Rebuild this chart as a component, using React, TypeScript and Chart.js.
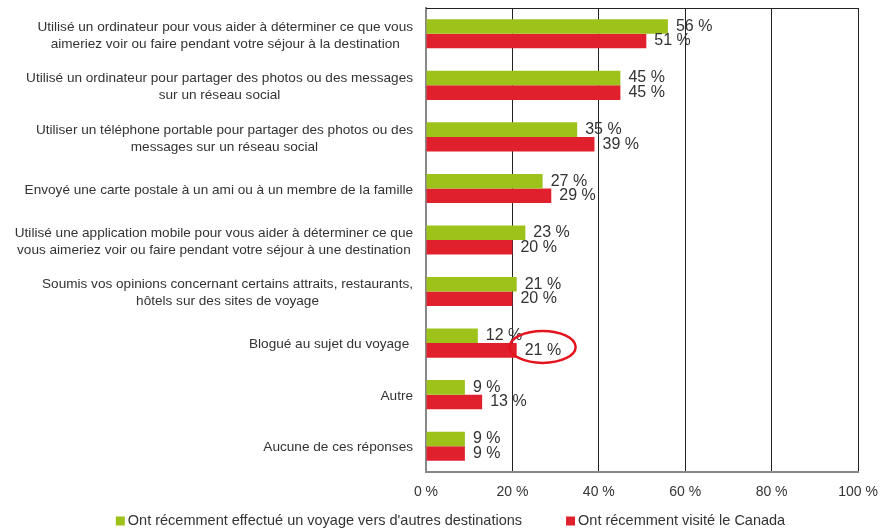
import React, { useEffect, useRef } from "react";
import { Chart, registerables } from "chart.js";

Chart.register(...registerables);

const categories: string[][] = [
  ["Utilisé un ordinateur pour vous aider à déterminer ce que vous", "aimeriez voir ou faire pendant votre séjour à la destination"],
  ["Utilisé un ordinateur pour partager des photos ou des messages", "sur un réseau social"],
  ["Utiliser un téléphone portable pour partager des photos ou des", "messages sur un réseau social"],
  ["Envoyé une carte postale à un ami ou à un membre de la famille"],
  ["Utilisé une application mobile pour vous aider à déterminer ce que", "vous aimeriez voir ou faire pendant votre séjour à une destination"],
  ["Soumis vos opinions concernant certains attraits, restaurants,", "hôtels sur des sites de voyage"],
  ["Blogué au sujet du voyage "],
  ["Autre"],
  ["Aucune de ces réponses"],
];
const otherDestinations = [56, 45, 35, 27, 23, 21, 12, 9, 9];
const visitedCanada = [51, 45, 39, 29, 20, 20, 21, 13, 9];
const seriesNames = [
  "Ont récemment effectué un voyage vers d'autres destinations",
  "Ont récemment visité le Canada",
];
const xTickValues = [0, 20, 40, 60, 80, 100];
const highlightIndex = 6;
const highlightCenterValue = 27;

const GREEN = "#9dc31b";
const RED = "#e1202e";
const TEXT = "#333333";
const FONT = '"Liberation Sans", Arial, Helvetica, sans-serif';

const labelsPlugin = {
  id: "customLabels",
  afterDatasetsDraw(chart: any) {
    const ctx = chart.ctx;
    const area = chart.chartArea;
    const yScale = chart.scales.y;
    const xScale = chart.scales.x;
    ctx.save();
    // top border
    ctx.strokeStyle = "#222";
    ctx.lineWidth = 1;
    ctx.beginPath();
    ctx.moveTo(area.left, area.top + 0.5);
    ctx.lineTo(area.right, area.top + 0.5);
    ctx.stroke();

    // category labels
    ctx.font = `13.6px ${FONT}`;
    ctx.fillStyle = TEXT;
    ctx.textBaseline = "middle";
    ctx.textAlign = "center";
    const lh = 17;
    categories.forEach((lines, i) => {
      const cy = yScale.getPixelForValue(i) + 1.5;
      const w = Math.max(...lines.map((l) => ctx.measureText(l).width));
      const cx = area.left - 13 - w / 2;
      lines.forEach((l, j) => ctx.fillText(l, cx, cy + (j - (lines.length - 1) / 2) * lh));
    });

    // value labels
    ctx.font = `16px ${FONT}`;
    ctx.textAlign = "left";
    chart.data.datasets.forEach((ds: any, di: number) => {
      const meta = chart.getDatasetMeta(di);
      meta.data.forEach((bar: any, i: number) => {
        ctx.fillText(`${ds.data[i]} %`, bar.x + 8, bar.y);
      });
    });

    // highlight ellipse
    const redBar = chart.getDatasetMeta(1).data[highlightIndex];
    if (redBar) {
      ctx.strokeStyle = "#e3141e";
      ctx.lineWidth = 2.5;
      ctx.beginPath();
      ctx.ellipse(xScale.getPixelForValue(highlightCenterValue), redBar.y - 3.5, 33, 16, 0, 0, Math.PI * 2);
      ctx.stroke();
    }

    // legend
    ctx.font = `14.5px ${FONT}`;
    ctx.textBaseline = "middle";
    const colors = [GREEN, RED];
    const box = 9;
    const gap = 3;
    const itemGap = 44;
    const widths = seriesNames.map((n) => box + gap + ctx.measureText(n).width);
    const total = widths.reduce((a, b) => a + b, 0) + itemGap;
    let x = chart.width / 2 - total / 2 + 10;
    const ly = area.bottom + 49;
    seriesNames.forEach((n, i) => {
      ctx.fillStyle = colors[i];
      ctx.fillRect(x, ly - box / 2, box, box);
      ctx.fillStyle = TEXT;
      ctx.fillText(n, x + box + gap, ly);
      x += widths[i] + itemGap;
    });
    ctx.restore();
  },
};

export default function App() {
  const ref = useRef<HTMLCanvasElement | null>(null);
  useEffect(() => {
    document.body.style.margin = "0";
    if (!ref.current) return;
    const chart = new Chart(ref.current, {
      type: "bar",
      data: {
        labels: categories.map((c) => c.join(" ")),
        datasets: [
          {
            label: seriesNames[0],
            data: otherDestinations,
            backgroundColor: GREEN,
            categoryPercentage: 0.565,
            barPercentage: 1,
          },
          {
            label: seriesNames[1],
            data: visitedCanada,
            backgroundColor: RED,
            categoryPercentage: 0.565,
            barPercentage: 1,
          },
        ],
      },
      options: {
        indexAxis: "y",
        animation: false,
        responsive: true,
        maintainAspectRatio: false,
        layout: { padding: { top: 8, right: 23, left: 0, bottom: 29 } },
        plugins: {
          legend: { display: false },
          tooltip: { enabled: false },
        },
        scales: {
          x: {
            min: 0,
            max: 100,
            afterBuildTicks: (scale: any) => {
              scale.ticks = xTickValues.map((v) => ({ value: v }));
            },
            afterFit: (scale: any) => {
              scale.height = 30;
              scale.paddingLeft = 0;
              scale.paddingRight = 0;
            },
            grid: { color: "#222", lineWidth: 1, drawTicks: false },
            border: { display: true, color: "#888", width: 2 },
            ticks: {
              padding: 12,
              color: TEXT,
              font: { size: 14, family: FONT },
              callback: (v: any) => `${v} %`,
            },
          },
          y: {
            afterFit: (scale: any) => {
              scale.width = 426;
            },
            grid: { display: false },
            border: { display: true, color: "#888", width: 2 },
            ticks: { display: false },
          },
        },
      },
      plugins: [labelsPlugin],
    });
    return () => chart.destroy();
  }, []);
  return (
    <div style={{ width: 881, height: 531, position: "relative" }}>
      <canvas ref={ref} />
    </div>
  );
}
